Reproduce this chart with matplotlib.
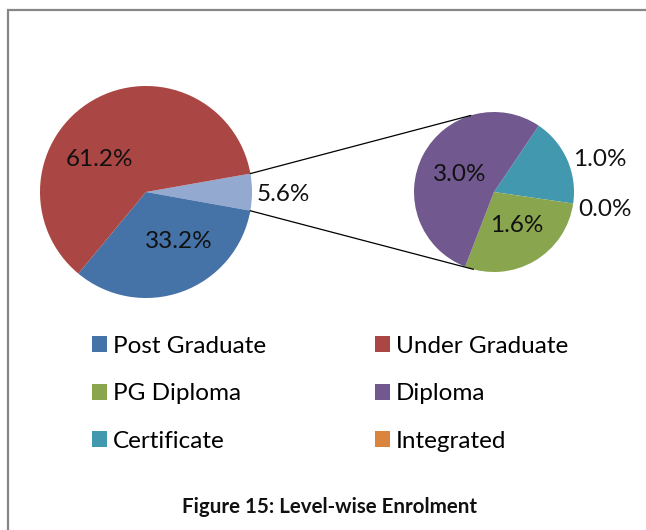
import numpy as np
import matplotlib
matplotlib.use("Agg")
from matplotlib import pyplot as plt
from matplotlib.patches import Patch, Rectangle

# main pie (clockwise from the "other" slice)
main_labels = ["Other", "Post Graduate", "Under Graduate"]
main_values = [5.6, 33.2, 61.2]
# second pie, the break-up of the 5.6% slice
sub_labels = ["Certificate", "Integrated", "PG Diploma", "Diploma"]
sub_values = [1.0, 0.0, 1.6, 3.0]

legend_order = ["Post Graduate", "PG Diploma", "Certificate",
                "Under Graduate", "Diploma", "Integrated"]

colors = {
    "Post Graduate": "#4572A7",
    "Under Graduate": "#AA4643",
    "PG Diploma": "#89A54E",
    "Diploma": "#71588F",
    "Certificate": "#4198AF",
    "Integrated": "#DB843D",
    "Other": "#93A9CF",
}

plt.rcParams["font.family"] = ["Lato", "DejaVu Sans"]

W, H = 646, 530
fig = plt.figure(figsize=(W / 100, H / 100), dpi=100)
ax = fig.add_axes([0, 0, 1, 1])

c1, r1 = (146, 338), 106
c2, r2 = (494, 338), 80

ax.pie(main_values, colors=[colors[k] for k in main_labels], startangle=10,
       counterclock=False, center=c1, radius=r1, wedgeprops=dict(linewidth=0))
ax.pie(sub_values, colors=[colors[k] for k in sub_labels], startangle=56,
       counterclock=False, center=c2, radius=r2, wedgeprops=dict(linewidth=0))


def polar(c, r, ang):
    a = np.radians(ang)
    return c[0] + r * np.cos(a), c[1] + r * np.sin(a)


# label placement (angle, fraction of radius)
main_pos = [(-1, 1.30), (-57, 0.56), (145, 0.53)]
sub_pos = [(17, 1.38), (-9, 1.40), (-56, 0.50), (153, 0.48)]
for v, (a, d) in zip(main_values, main_pos):
    x, y = polar(c1, r1 * d, a)
    ax.text(x, y, f"{v:.1f}%", ha="center", va="center", fontsize=17.5, color="#111111")
for v, (a, d) in zip(sub_values, sub_pos):
    x, y = polar(c2, r2 * d, a)
    ax.text(x, y, f"{v:.1f}%", ha="center", va="center", fontsize=17.5, color="#111111")

# connector lines from the 5.6% slice to the second pie
for a1, a2 in [(10, 107), (-10.2, -105)]:
    p, q = polar(c1, r1, a1), polar(c2, r2, a2)
    ax.plot([p[0], q[0]], [p[1], q[1]], color="#000000", lw=0.9)

# chart frame
ax.add_patch(Rectangle((8, -20), 700, 540, fill=False, edgecolor="#878787", lw=1.6))

handles = [Patch(facecolor=colors[k], edgecolor="none") for k in legend_order]
ax.legend(handles, legend_order, ncol=2, loc="upper left",
          bbox_to_anchor=(70, 216), bbox_transform=ax.transData,
          frameon=False, fontsize=17.5, handlelength=0.62, handleheight=0.62,
          handletextpad=0.25, columnspacing=4.48, labelspacing=1.09)

ax.text(329, 23, "Figure 15: Level-wise Enrolment", ha="center", va="center",
        fontsize=14.8, fontweight="bold", color="#111111")

ax.set_xlim(0, W)
ax.set_ylim(0, H)
ax.set_aspect("equal")
ax.axis("off")

fig.savefig("out.png", dpi=100)
